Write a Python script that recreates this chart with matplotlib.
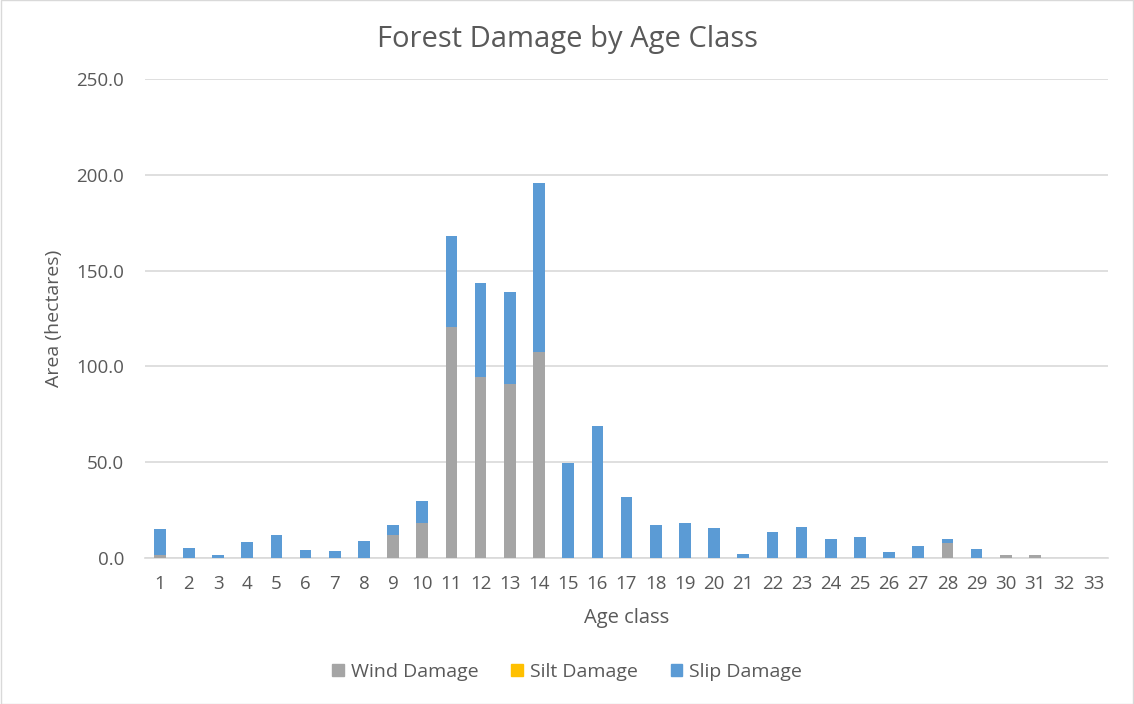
import matplotlib
matplotlib.use("Agg")
import matplotlib.pyplot as plt
from matplotlib.patches import Patch, Rectangle
import numpy as np

plt.rcParams['font.family'] = ['Open Sans', 'DejaVu Sans']

age_classes = [str(i) for i in range(1, 34)]
wind_damage = [1.5, 0, 0, 0, 0, 0, 0, 0, 11.8, 18.3, 120.7, 94.3, 90.7, 107.4, 0, 0,
               0, 0, 0, 0, 0, 0, 0, 0, 0, 0, 0, 8.0, 0, 1.4, 1.4, 0, 0]
silt_damage = [0] * 33
slip_damage = [13.5, 5.4, 1.8, 8.2, 11.8, 4.3, 3.8, 8.7, 5.4, 11.3, 47.5, 49.1, 48.0, 88.3, 49.6, 69.0,
               31.7, 17.2, 18.3, 15.7, 2.1, 13.4, 16.2, 9.9, 10.8, 3.1, 6.4, 2.1, 4.7, 0, 0, 0, 0]
y_ticks = [0, 50, 100, 150, 200, 250]

c_wind = '#A5A5A5'
c_silt = '#FFC000'
c_slip = '#5B9BD5'
text_c = '#595959'

fig = plt.figure(figsize=(11.34, 7.04), dpi=100)
fig.patches.append(Rectangle((0.0005, 0.0007), 0.999, 0.9986, transform=fig.transFigure,
                             fill=False, edgecolor='#D9D9D9', linewidth=1))
ax = fig.add_axes([0.128, 0.2074, 0.849, 0.6804])

x = np.arange(len(age_classes))
w = 0.4
wind = np.array(wind_damage)
silt = np.array(silt_damage)
slip = np.array(slip_damage)
ax.bar(x, wind, w, color=c_wind, zorder=3)
ax.bar(x, silt, w, bottom=wind, color=c_silt, zorder=3)
ax.bar(x, slip, w, bottom=wind + silt, color=c_slip, zorder=3)

ax.set_xlim(-0.5, len(age_classes) - 0.5)
ax.set_ylim(0, 250)
ax.set_yticks(y_ticks)
ax.set_yticklabels([f"{v:.1f}" for v in y_ticks])
ax.set_xticks(x)
ax.set_xticklabels(age_classes)
ax.grid(axis='y', color='#D9D9D9', linewidth=1.2, zorder=0)
for s in ['top', 'right', 'left']:
    ax.spines[s].set_visible(False)
ax.spines['bottom'].set_color('#D9D9D9')
ax.spines['bottom'].set_linewidth(1.2)
ax.tick_params(axis='both', length=0, labelsize=13.5, labelcolor=text_c)
ax.tick_params(axis='y', pad=15)
ax.tick_params(axis='x', pad=12)

ax.set_xlabel('Age class', fontsize=14.5, color=text_c, labelpad=11)
ax.set_ylabel('Area (hectares)', fontsize=14, color=text_c, labelpad=10)
fig.suptitle('Forest Damage by Age Class', fontsize=21, color=text_c, y=0.964)

handles = [Patch(color=c_wind, label='Wind Damage'),
           Patch(color=c_silt, label='Silt Damage'),
           Patch(color=c_slip, label='Slip Damage')]
leg = fig.legend(handles=handles, loc='center', bbox_to_anchor=(0.5, 0.046), ncol=3,
                 frameon=False, fontsize=14, handlelength=0.6, handleheight=0.6,
                 handletextpad=0.35, columnspacing=1.7)
for t in leg.get_texts():
    t.set_color(text_c)

fig.savefig('out.png', dpi=100)
